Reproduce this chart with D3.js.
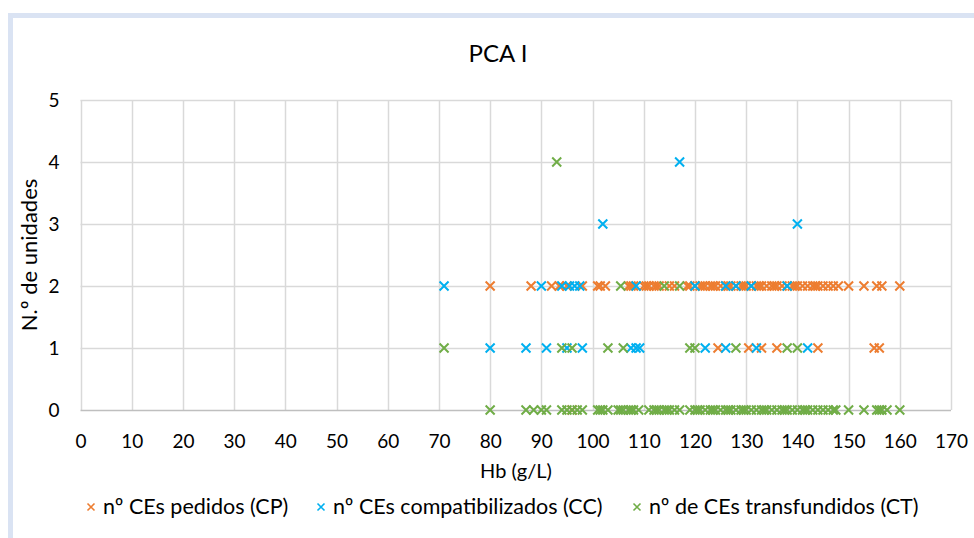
<!DOCTYPE html>
<html>
<head>
<meta charset="utf-8">
<script src="https://cdn.jsdelivr.net/npm/d3@7"></script>
<style>
  html, body { margin: 0; padding: 0; background: #fff; }
  svg { display: block; }
  text { font-family: Lato, "Open Sans", sans-serif; fill: #000; }
</style>
</head>
<body>
<svg id="chart" width="974" height="538"></svg>
<script>
// ---- data ----
const title = "PCA I";
const xTitle = "Hb (g/L)";
const yTitle = "N.º de unidades";
const xTicks = [0, 10, 20, 30, 40, 50, 60, 70, 80, 90, 100, 110, 120, 130, 140, 150, 160, 170];
const yTicks = [0, 1, 2, 3, 4, 5];
const seriesNames = ["nº CEs pedidos (CP)", "nº CEs compatibilizados (CC)", "nº de CEs transfundidos (CT)"];
const seriesColors = ["#ED7D31", "#00B0F0", "#70AD47"];

// CP: Hb values by number of units
const cpAt2 = [80, 88, 92, 93.5, 95, 98, 101, 101.5, 102.5, 107, 107.5, 108, 110, 110.5, 111, 112, 112.5, 113,
  115, 116, 118.5, 119, 120, 121, 121.5, 122, 123, 123.5, 124, 125, 126, 126.5, 127, 128, 129, 129.5, 130, 131,
  132, 132.5, 133, 134, 135, 135.5, 136, 137, 138, 139, 139.5, 140, 141, 142, 143, 143.5, 144, 145, 146, 147, 148,
  150, 153, 155.5, 156.5, 160];
const cpAt1 = [124.5, 130.5, 133, 136, 144, 155, 156];
const cpAt0 = [96];

// CC
const ccAt4 = [117];
const ccAt3 = [102, 140];
const ccAt2 = [71, 90, 94, 95.5, 96.5, 97.5, 108.5, 120, 126, 128, 131, 138];
const ccAt1 = [80, 87, 91, 95, 98, 107.5, 108.5, 109.2, 122, 126, 132, 142];

// CT
const ctAt4 = [93];
const ctAt2 = [105.5, 114, 117];
const ctAt1 = [71, 94, 96, 103, 106, 119, 120, 128, 138, 140];
const ctAt0 = [80, 87, 88.5, 90, 91, 94, 95, 96, 97, 98, 101, 101.5, 102, 103, 105, 105.5, 106, 107, 107.5, 108,
  109, 111, 112, 112.5, 113, 114, 114.5, 115, 116, 117, 119, 120, 120.5, 121, 122, 123, 123.5, 124, 125, 126,
  126.5, 127, 128, 129, 129.5, 130, 131, 132, 133, 133.5, 134, 135, 136, 137, 137.5, 138, 139, 140, 141, 141.5,
  142, 143, 144, 145, 146, 147, 147.5, 150, 153, 155.5, 156, 156.5, 157.5, 160];

// ---- build ----
function pts(levels) {
  const out = [];
  levels.forEach(([n, arr]) => arr.forEach(hb => out.push({ hb, n })));
  return out;
}
const series = [
  pts([[2, cpAt2], [1, cpAt1], [0, cpAt0]]),
  pts([[4, ccAt4], [3, ccAt3], [2, ccAt2], [1, ccAt1]]),
  pts([[4, ctAt4], [2, ctAt2], [1, ctAt1], [0, ctAt0]])
];

const svg = d3.select("#chart");
const M = { left: 80.5, right: 951, top: 100, bottom: 410 };
const x = d3.scaleLinear().domain([0, 170]).range([M.left, M.right]);
const y = d3.scaleLinear().domain([0, 5]).range([M.bottom, M.top]);

// outer frame
svg.append("rect").attr("x", 10.5).attr("y", 15.5).attr("width", 1000).attr("height", 600)
  .attr("fill", "none").attr("stroke", "#DAE3F3").attr("stroke-width", 5);

// gridlines
const g = svg.append("g");
g.selectAll(".vg").data(xTicks).join("line")
  .attr("x1", d => Math.round(x(d)) + 0.5).attr("x2", d => Math.round(x(d)) + 0.5)
  .attr("y1", M.top).attr("y2", M.bottom)
  .attr("stroke", "#D9D9D9").attr("stroke-width", 1.5);
g.selectAll(".hg").data(yTicks.filter(d => d > 0)).join("line")
  .attr("x1", M.left).attr("x2", M.right)
  .attr("y1", d => Math.round(y(d)) + 0.5).attr("y2", d => Math.round(y(d)) + 0.5)
  .attr("stroke", "#D9D9D9").attr("stroke-width", 1.5);
// x axis line
g.append("line").attr("x1", M.left).attr("x2", M.right)
  .attr("y1", y(0) + 0.5).attr("y2", y(0) + 0.5)
  .attr("stroke", "#BFBFBF").attr("stroke-width", 1.5);

// tick labels using axes
const xAxis = d3.axisBottom(x).tickValues(xTicks).tickSize(0).tickPadding(0).tickFormat(d3.format("d"));
const xa = svg.append("g").attr("transform", `translate(0, ${M.bottom + 24})`).call(xAxis);
xa.select(".domain").remove();
xa.selectAll("text").attr("font-size", 19).attr("font-family", "Lato").attr("fill", "#000").attr("dy", "0.71em");

const yAxis = d3.axisLeft(y).tickValues(yTicks).tickSize(0).tickPadding(0).tickFormat(d3.format("d"));
const ya = svg.append("g").attr("transform", `translate(${M.left - 21}, 0)`).call(yAxis);
ya.select(".domain").remove();
ya.selectAll("text").attr("font-size", 19).attr("font-family", "Lato").attr("fill", "#000");

// markers
const s = 4.5;
const xPath = `M${-s},${-s}L${s},${s}M${-s},${s}L${s},${-s}`;
series.forEach((data, i) => {
  svg.append("g").selectAll("path").data(data).join("path")
    .attr("transform", d => `translate(${x(d.hb)},${y(d.n)})`)
    .attr("d", xPath)
    .attr("fill", "none")
    .attr("stroke", seriesColors[i])
    .attr("stroke-width", 2);
});

// titles
svg.append("text").attr("x", 498).attr("y", 62).attr("text-anchor", "middle")
  .attr("font-size", 24).text(title);
svg.append("text").attr("x", 516).attr("y", 478).attr("text-anchor", "middle")
  .attr("font-size", 20).text(xTitle);
svg.append("text").attr("transform", `translate(37, 255) rotate(-90)`).attr("text-anchor", "middle")
  .attr("font-size", 22).text(yTitle);

// legend
const legendX = [91, 321, 637];
const lg = svg.append("g");
seriesNames.forEach((name, i) => {
  const cx = legendX[i], cy = 507;
  const ss = 3.5;
  lg.append("path").attr("transform", `translate(${cx},${cy})`)
    .attr("d", `M${-ss},${-ss}L${ss},${ss}M${-ss},${ss}L${ss},${-ss}`)
    .attr("stroke", seriesColors[i]).attr("stroke-width", 1.6).attr("fill", "none");
  lg.append("text").attr("x", cx + 12).attr("y", cy + 7).attr("font-size", 21.5).text(name);
});
</script>
</body>
</html>
